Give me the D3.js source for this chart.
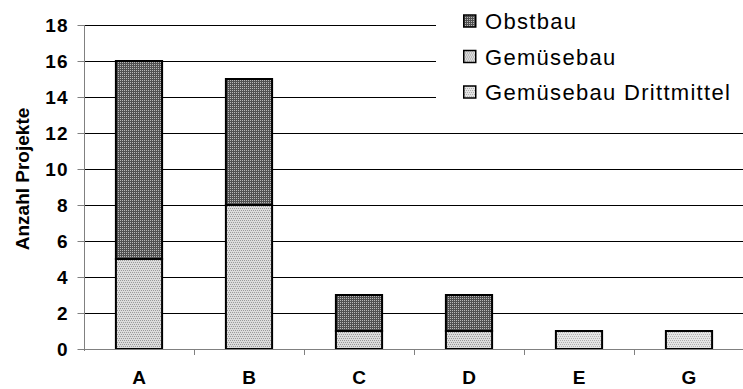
<!DOCTYPE html>
<html><head><meta charset="utf-8">
<script src="https://cdn.jsdelivr.net/npm/d3@7"></script>
<style>body{margin:0;background:#fff}svg{display:block}text{font-family:Arial,"Liberation Sans",sans-serif}</style>
</head><body>
<svg id="c" width="743" height="389"></svg>
<script>
const categories = ["A","B","C","D","E","G"];
const seriesNames = ["Gemüsebau Drittmittel","Gemüsebau","Obstbau"];
const drittmittel = [0,0,0,0,1,1];
const gemuesebau = [5,8,1,1,0,0];
const obstbau = [11,7,2,2,0,0];
const yTicks = [0,2,4,6,8,10,12,14,16,18];
const legendOrder = ["Obstbau","Gemüsebau","Gemüsebau Drittmittel"];

const svg = d3.select("#c");
const defs = svg.append("defs");
function pat(id, bg, fg, cells){
  const p = defs.append("pattern").attr("id",id).attr("patternUnits","userSpaceOnUse").attr("width",4).attr("height",4);
  p.append("rect").attr("width",4).attr("height",4).attr("fill",bg);
  cells.forEach(([x,y])=>p.append("rect").attr("x",x).attr("y",y).attr("width",1).attr("height",1).attr("fill",fg));
}
pat("pObst","#505050","#b8b8b8",[[0,0],[2,2],[2,0],[0,2]]);
pat("pGem","#dcdcdc","#9a9a9a",[[0,0],[2,0],[1,2],[3,2]]);
pat("pDritt","#e4e4e4","#b0b0b0",[[0,0],[2,0],[1,2],[3,2]]);
const fills = {"Obstbau":"url(#pObst)","Gemüsebau":"url(#pGem)","Gemüsebau Drittmittel":"url(#pDritt)"};

const x = d3.scaleBand().domain(categories).range([84,744]).paddingInner(0.58).paddingOuter(0.29);
const y = d3.scaleLinear().domain([0,18]).range([349,25]);

// gridlines
svg.append("g").selectAll("line").data(yTicks.filter(d=>d>0)).join("line")
  .attr("x1",84).attr("x2",743).attr("y1",d=>y(d)+0.5).attr("y2",d=>y(d)+0.5)
  .attr("stroke","#000").attr("stroke-width",1);

// legend white box (covers gridlines)
svg.append("rect").attr("x",436).attr("y",0).attr("width",307).attr("height",114).attr("fill","#fff");

// stacked data
const data = categories.map((c,i)=>({cat:c,"Gemüsebau Drittmittel":drittmittel[i],"Gemüsebau":gemuesebau[i],"Obstbau":obstbau[i]}));
const stack = d3.stack().keys(seriesNames)(data);
svg.append("g").selectAll("g").data(stack).join("g")
  .attr("fill",d=>fills[d.key])
  .selectAll("rect").data(d=>d.filter(v=>v[1]-v[0]>0)).join("rect")
  .attr("x",d=>x(d.data.cat)).attr("width",x.bandwidth())
  .attr("y",d=>y(d[1])).attr("height",d=>y(d[0])-y(d[1]))
  .attr("stroke","#000").attr("stroke-width",2);

// y axis
const ya = d3.axisLeft(y).tickValues(yTicks).tickSize(7).tickPadding(9);
const yg = svg.append("g").attr("transform","translate(84.5,0)").call(ya);
yg.attr("font-size",null).attr("font-family",null);
yg.select(".domain").attr("stroke","#808080").attr("d","M0,25V351");
yg.selectAll(".tick line").attr("stroke","#808080");
yg.selectAll("text").style("font-size","19px").style("font-weight","bold").style("letter-spacing","1px").attr("fill","#000").attr("dy","0.36em");

// x axis
svg.append("line").attr("x1",84).attr("x2",743).attr("y1",349.5).attr("y2",349.5).attr("stroke","#808080");
const bounds = categories.slice(1).map(c=>x(c)-x.step()*x.paddingInner()/2);
svg.append("g").selectAll("line").data(bounds).join("line")
  .attr("x1",d=>Math.round(d)+0.5).attr("x2",d=>Math.round(d)+0.5).attr("y1",349).attr("y2",355).attr("stroke","#808080");
svg.append("g").selectAll("text").data(categories).join("text")
  .attr("x",d=>x(d)+x.bandwidth()/2).attr("y",384).attr("text-anchor","middle")
  .style("font-size","19px").style("font-weight","bold").text(d=>d);

// y title
svg.append("text").attr("transform","translate(29,179) rotate(-90)").attr("text-anchor","middle")
  .style("font-size","19px").style("font-weight","bold").text("Anzahl Projekte");

// legend
const lg = svg.append("g").selectAll("g").data(legendOrder).join("g")
  .attr("transform",(d,i)=>`translate(463,${21+i*35.5})`);
lg.append("rect").attr("x",0.75).attr("y",-6).attr("width",12).attr("height",12).attr("fill",d=>fills[d]).attr("stroke","#000").attr("stroke-width",1.5);
lg.append("text").attr("x",22).attr("y",8).style("font-size","22px").style("letter-spacing","1.3px").text(d=>d);
</script>
</body></html>
